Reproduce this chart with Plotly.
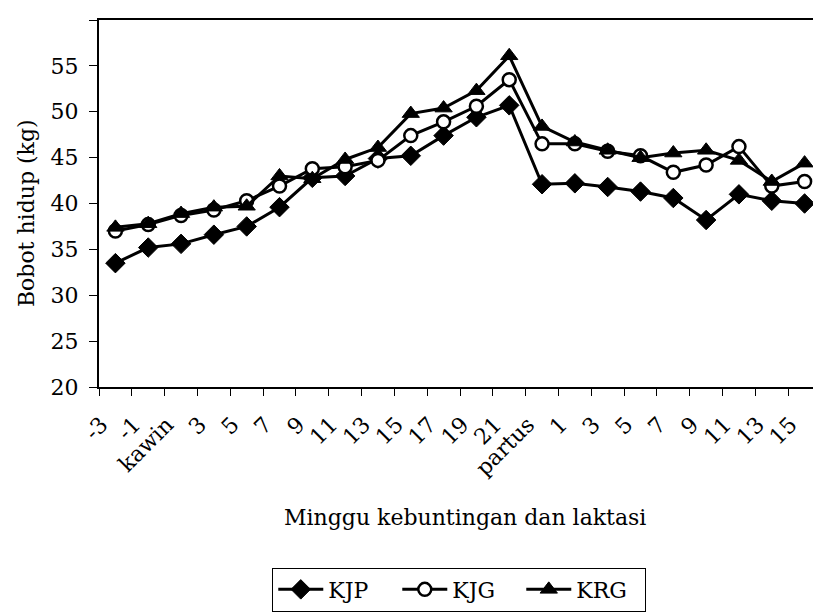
import plotly.graph_objects as go

categories = ["-3", "-1", "kawin", "3", "5", "7", "9", "11", "13", "15", "17", "19", "21",
              "partus", "1", "3b", "5b", "7b", "9b", "11b", "13b", "15b"]
tick_labels = ["-3", "-1", "kawin", "3", "5", "7", "9", "11", "13", "15", "17", "19", "21",
               "partus", "1", "3", "5", "7", "9", "11", "13", "15"]
kjp = [33.5, 35.2, 35.6, 36.6, 37.5, 39.6, 42.8, 43.0, 44.9, 45.2, 47.4, 49.4, 50.7,
       42.1, 42.2, 41.8, 41.3, 40.6, 38.2, 41.0, 40.3, 40.0]
kjg = [37.0, 37.7, 38.7, 39.3, 40.3, 41.9, 43.8, 44.0, 44.7, 47.4, 48.9, 50.6, 53.5,
       46.5, 46.5, 45.7, 45.2, 43.4, 44.2, 46.2, 41.9, 42.4]
krg = [37.4, 37.8, 38.9, 39.6, 39.7, 43.0, 42.7, 44.8, 46.1, 49.8, 50.4, 52.3, 56.1,
       48.4, 46.7, 45.8, 45.0, 45.5, 45.8, 44.7, 42.4, 44.4]
y_ticks = [20, 25, 30, 35, 40, 45, 50, 55, 60]

FONT = "DejaVu Serif"
FS = 22

fig = go.Figure()
fig.add_trace(go.Scatter(x=categories, y=kjp, name="KJP", mode="lines+markers",
                         line=dict(color="black", width=3),
                         marker=dict(symbol="diamond", size=15, color="black",
                                     line=dict(color="black", width=1))))
fig.add_trace(go.Scatter(x=categories, y=kjg, name="KJG", mode="lines+markers",
                         line=dict(color="black", width=3),
                         marker=dict(symbol="circle", size=13, color="white",
                                     line=dict(color="black", width=2.5))))
fig.add_trace(go.Scatter(x=categories, y=krg, name="KRG", mode="lines+markers",
                         line=dict(color="black", width=3),
                         marker=dict(symbol="triangle-up", size=15, color="black",
                                     line=dict(color="black", width=1))))

fig.update_layout(
    width=813, height=605,
    margin=dict(l=91, r=0, t=12, b=226, autoexpand=False),
    paper_bgcolor="white", plot_bgcolor="white",
    font=dict(family=FONT, size=FS, color="black"),
    showlegend=True,
    legend=dict(orientation="h", x=0.24, xanchor="left", y=-0.492, yanchor="top",
                bordercolor="black", borderwidth=1, font=dict(family=FONT, size=FS),
                bgcolor="white", entrywidth=64, entrywidthmode="pixels", itemwidth=45),
    xaxis=dict(type="category", range=[-0.5, 21.5], autorange=False,
               tickmode="array", tickvals=categories, ticktext=tick_labels,
               tickangle=-45, tickson="boundaries",
               ticks="outside", ticklen=7, tickcolor="black", tickwidth=1,
               showline=True, linecolor="black", linewidth=2, mirror=True,
               showgrid=False, zeroline=False,
               tickfont=dict(family=FONT, size=FS),
               ticklabelstandoff=14, ticklabelshift=-14),
    yaxis=dict(range=[20, 60.001], autorange=False, tickvals=y_ticks, ticks="outside", ticklen=8,
               tickcolor="black", tickwidth=1,
               showline=True, linecolor="black", linewidth=2,
               showgrid=False, zeroline=False,
               tickfont=dict(family=FONT, size=FS), ticklabelstandoff=6),
    annotations=[
        dict(text="Bobot hidup (kg)", textangle=-90, xref="paper", yref="paper",
             x=-0.101, y=0.474, xanchor="center", yanchor="middle", showarrow=False,
             font=dict(family=FONT, size=FS)),
        dict(text="Minggu kebuntingan dan laktasi", xref="paper", yref="paper",
             x=0.507, y=-0.356, xanchor="center", yanchor="middle", showarrow=False,
             font=dict(family=FONT, size=FS)),
    ],
)

fig.write_html("out.html")
